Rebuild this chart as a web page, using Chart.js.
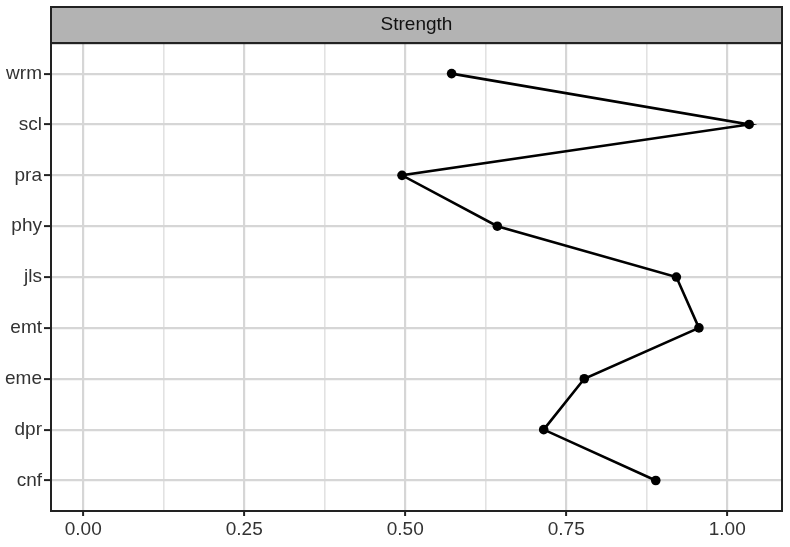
<!DOCTYPE html>
<html><head><meta charset="utf-8">
<script src="https://cdn.jsdelivr.net/npm/chart.js@4/dist/chart.umd.min.js"></script>
<style>html,body{margin:0;padding:0;background:#fff}</style>
</head><body>
<canvas id="c" width="790" height="547"></canvas>
<script>
// Data (bottom to top)
const categories = ['cnf','dpr','eme','emt','jls','phy','pra','scl','wrm'];
const strength   = [0.889, 0.715, 0.778, 0.956, 0.921, 0.643, 0.495, 1.034, 0.572];
const xMajorTicks = [0, 0.25, 0.5, 0.75, 1.0];
const xMinorTicks = [0.125, 0.375, 0.625, 0.875];
const stripLabel = 'Strength';

const points = categories.map((c, i) => ({x: strength[i], y: i}));
const FONT = "'Liberation Sans', Arial, sans-serif";
const isMajor = v => xMajorTicks.some(t => Math.abs(t - v) < 1e-9);

const panelPlugin = {
  id: 'panel',
  beforeDraw(chart) {
    const {ctx, chartArea: a} = chart;
    const t = chart.titleBlock;
    ctx.save();
    ctx.fillStyle = '#B3B3B3';
    ctx.fillRect(a.left, t.top, a.right - a.left, t.bottom - t.top);
    ctx.restore();
  },
  afterDraw(chart) {
    const {ctx, chartArea: a} = chart;
    const t = chart.titleBlock;
    ctx.save();
    ctx.strokeStyle = '#222222';
    ctx.lineWidth = 2;
    ctx.strokeRect(a.left, t.top, a.right - a.left, t.bottom - t.top);
    ctx.strokeRect(a.left, a.top, a.right - a.left, a.bottom - a.top);
    ctx.restore();
  }
};

new Chart(document.getElementById('c'), {
  type: 'scatter',
  data: {
    datasets: [{
      data: points,
      showLine: true,
      borderColor: '#000000',
      borderWidth: 2.6,
      pointRadius: 4.8,
      pointHoverRadius: 4.8,
      pointBackgroundColor: '#000000',
      pointBorderWidth: 0,
      tension: 0,
      clip: false
    }]
  },
  plugins: [panelPlugin],
  options: {
    responsive: false,
    animation: false,
    layout: {padding: {top: 7, right: 8, left: 0, bottom: 0}},
    plugins: {
      legend: {display: false},
      tooltip: {enabled: false},
      title: {
        display: true,
        text: stripLabel,
        fullSize: false,
        padding: 0,
        color: '#111111',
        font: {family: FONT, size: 19, weight: 'normal', lineHeight: 1.9}
      }
    },
    scales: {
      x: {
        type: 'linear',
        min: -0.05,
        max: 1.085,
        afterBuildTicks(scale) {
          scale.ticks = [...xMajorTicks, ...xMinorTicks].sort((a, b) => a - b).map(v => ({value: v}));
        },
        afterFit(scale) { scale.height = 36; },
        border: {display: false},
        grid: {
          color: c => isMajor(c.tick.value) ? '#D6D6D6' : '#E2E2E2',
          lineWidth: c => isMajor(c.tick.value) ? 2.2 : 1.6,
          tickColor: c => isMajor(c.tick.value) ? '#222222' : 'rgba(0,0,0,0)',
          tickLength: 5,
          tickWidth: 2,
          drawTicks: true
        },
        ticks: {
          autoSkip: false,
          maxRotation: 0,
          padding: 2,
          color: '#333333',
          font: {family: FONT, size: 19},
          callback: v => isMajor(v) ? v.toFixed(2) : ''
        }
      },
      y: {
        type: 'linear',
        min: -0.6,
        max: 8.6,
        afterBuildTicks(scale) {
          scale.ticks = categories.map((c, i) => ({value: i}));
        },
        afterFit(scale) { scale.width = 51; },
        border: {display: false},
        grid: {
          color: '#D6D6D6',
          lineWidth: 2.2,
          tickColor: '#222222',
          tickLength: 7,
          tickWidth: 2
        },
        ticks: {
          autoSkip: false,
          padding: 2,
          color: '#333333',
          font: {family: FONT, size: 19},
          callback: v => categories[v]
        }
      }
    }
  }
});
</script>
</body></html>
